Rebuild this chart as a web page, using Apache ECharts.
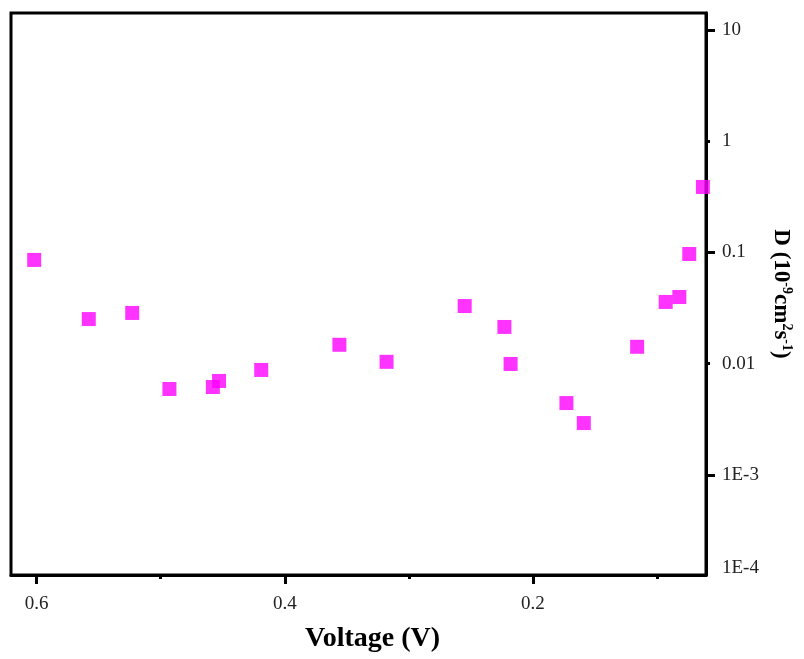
<!DOCTYPE html>
<html>
<head>
<meta charset="utf-8">
<script src="https://cdn.jsdelivr.net/npm/echarts@6/dist/echarts.min.js"></script>
<style>
  html, body { margin: 0; padding: 0; background: #fff; }
  #chart { width: 804px; height: 659px; }
</style>
</head>
<body>
<div id="chart"></div>
<script>
// voltage (V) and diffusion coefficient D (10^-9 cm^2 s^-1)
const voltage = [0.602, 0.558, 0.523, 0.493, 0.458, 0.453, 0.419, 0.356, 0.318,
                 0.255, 0.223, 0.218, 0.173, 0.159, 0.116, 0.093, 0.082, 0.074, 0.063];
const diffusion = [0.0857, 0.0252, 0.0286, 0.00593, 0.00618, 0.0070, 0.00879, 0.0148, 0.0104,
                   0.0330, 0.0214, 0.00995, 0.00443, 0.00293, 0.0142, 0.0359, 0.0398, 0.0969, 0.388];

// axis ranges, ticks and tick labels
const xRange = [0.0605, 0.6207];
const xMajorTicks = [0.2, 0.4, 0.6];
const xMinorTicks = [0.1, 0.3, 0.5];
const yRange = [1.262e-4, 14.2];
const yMajorTicks = [1e-3, 0.1, 10];
const yMinorTicks = [0.01, 1];
const yLabelValues = [1.45e-4, 1e-3, 0.01, 0.1, 1, 10];
const yLabelTexts = ["1E-4", "1E-3", "0.01", "0.1", "1", "10"];

const FONT = "Liberation Serif";
const BLACK = "#000";

const chart = echarts.init(document.getElementById("chart"));

const baseX = {
    type: "value",
    position: "bottom",
    inverse: true,
    min: xRange[0],
    max: xRange[1],
    splitLine: { show: false },
};
const baseY = {
    type: "log",
    logBase: 10,
    position: "right",
    min: yRange[0],
    max: yRange[1],
    splitLine: { show: false },
};

chart.setOption({
    backgroundColor: "#fff",
    animation: false,
    grid: {
        left: 11, right: 98, top: 13, bottom: 84,
        show: true, borderColor: BLACK, borderWidth: 3,
    },
    xAxis: [{
        ...baseX,
        name: "Voltage (V)",
        nameLocation: "middle",
        nameGap: 50,
        nameTextStyle: {
            fontFamily: FONT, fontWeight: "bold", fontSize: 28, color: BLACK,
            padding: [0, 0, 0, 28],
        },
        axisLine: { show: true, lineStyle: { color: BLACK, width: 3 } },
        axisTick: { show: true, length: 9, customValues: xMajorTicks, lineStyle: { color: BLACK, width: 3 } },
        axisLabel: {
            margin: 20,
            fontFamily: FONT, fontSize: 19, color: "#222",
            customValues: xMajorTicks,
            formatter: v => v.toFixed(1),
        },
    }, {
        ...baseX,
        axisLine: { show: false },
        axisTick: { show: true, length: 4, customValues: xMinorTicks, lineStyle: { color: BLACK, width: 3 } },
        axisLabel: { show: false },
    }],
    yAxis: [{
        ...baseY,
        name: "{b|D (10}{s|-9}{b|cm}{s|2}{b|s}{s|-1}{b|)}",
        nameLocation: "middle",
        nameRotate: -90,
        nameGap: 62,
        nameTextStyle: {
            rich: {
                b: { fontFamily: FONT, fontWeight: "bold", fontSize: 23, color: BLACK },
                s: { fontFamily: FONT, fontWeight: "bold", fontSize: 14, color: BLACK, padding: [0, 0, 11, 0] },
            },
        },
        axisLine: { show: true, lineStyle: { color: BLACK, width: 3 } },
        axisTick: { show: true, length: 9, customValues: yMajorTicks, lineStyle: { color: BLACK, width: 3 } },
        axisLabel: {
            margin: 16,
            fontFamily: FONT, fontSize: 19, color: "#222",
            customValues: yLabelValues,
            formatter: v => {
                let best = 0;
                yLabelValues.forEach((lv, i) => {
                    if (Math.abs(Math.log10(lv / v)) < Math.abs(Math.log10(yLabelValues[best] / v))) best = i;
                });
                return yLabelTexts[best];
            },
        },
    }, {
        ...baseY,
        axisLine: { show: false },
        axisTick: { show: true, length: 4, customValues: yMinorTicks, lineStyle: { color: BLACK, width: 3 } },
        axisLabel: { show: false },
    }],
    series: [{
        type: "scatter",
        symbol: "rect",
        symbolSize: 14,
        itemStyle: { color: "#ff00ff" },
        data: voltage.map((v, i) => [v, diffusion[i]]),
    }],
});
</script>
</body>
</html>
